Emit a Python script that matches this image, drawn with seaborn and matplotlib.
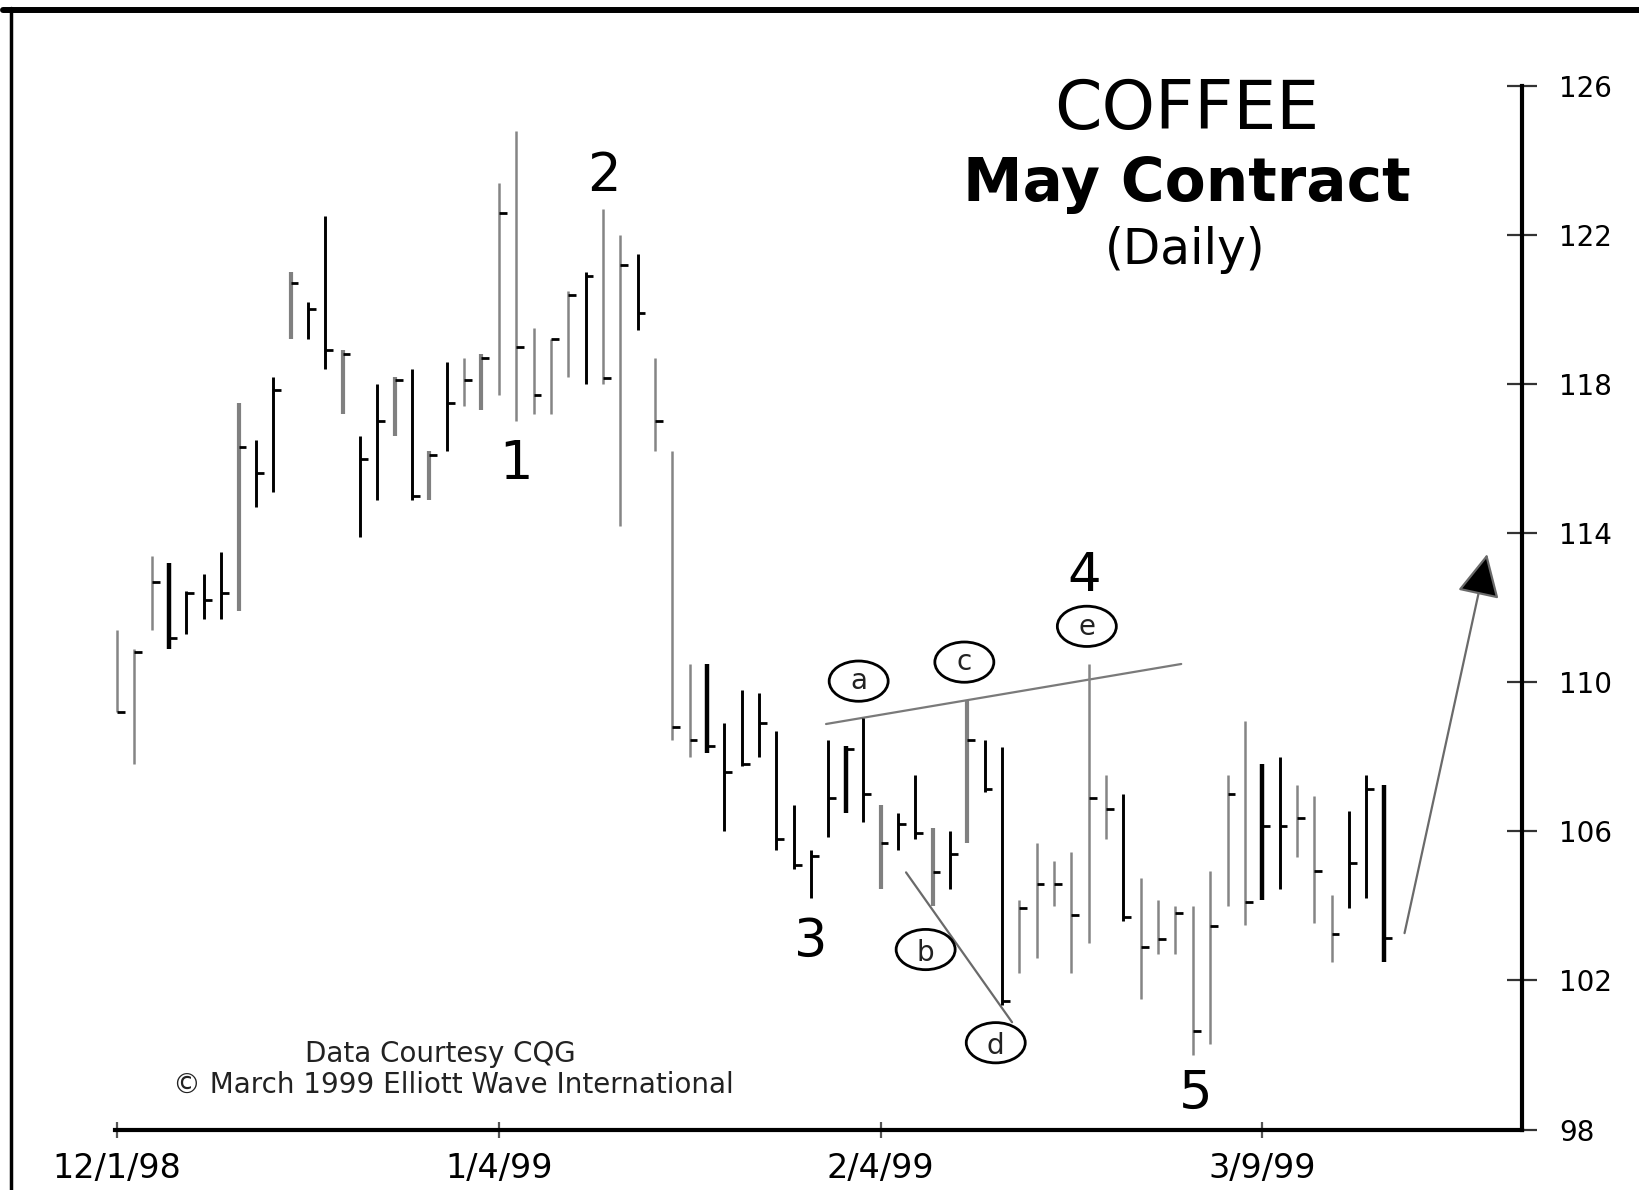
import numpy as np
import matplotlib
matplotlib.use("Agg")
import matplotlib.pyplot as plt
from matplotlib.patches import Ellipse
from matplotlib.lines import Line2D
import seaborn as sns

sns.set_theme(style="white")
plt.rcParams['font.family'] = ['DejaVu Sans']

# Trading sessions counted from 12/1/98
day = list(range(74))

high = [111.4, 110.9, 113.4, 113.2, 112.45, 112.9, 113.5, 117.5, 116.5, 118.2,
        121.0, 120.2, 122.5, 118.9, 116.6, 118.0, 118.2, 118.4, 116.2, 118.6,
        118.7, 118.8, 123.4, 124.8, 119.5, 119.2, 120.5, 121.0, 122.7, 122.0,
        121.5, 118.7, 116.2, 110.5, 110.5, 108.9, 109.8, 109.7, 108.7, 106.7,
        105.5, 108.45, 108.3, 109.05, 106.7, 106.5, 107.5, 106.1, 106.0, 109.5,
        108.45, 108.25, 104.15, 105.7, 105.2, 105.45, 110.5, 107.5, 107.0, 104.75,
        104.15, 104.0, 104.0, 104.95, 107.5, 108.95, 107.8, 108.0, 107.25, 106.95,
        104.3, 106.55, 107.5, 107.25]

low = [109.2, 107.8, 111.4, 110.9, 111.3, 111.7, 111.7, 111.9, 114.7, 115.1,
       119.2, 119.2, 118.4, 117.2, 113.9, 114.9, 116.6, 114.9, 114.9, 116.2,
       117.4, 117.3, 117.7, 117.0, 117.2, 117.2, 118.2, 118.0, 118.0, 114.2,
       119.45, 116.2, 108.45, 108.0, 108.1, 106.0, 107.75, 108.0, 105.5, 105.0,
       104.2, 105.85, 106.5, 106.25, 104.45, 105.5, 105.8, 104.0, 104.45, 105.7,
       107.05, 101.35, 102.2, 102.6, 104.0, 102.2, 103.0, 105.8, 103.6, 101.5,
       102.7, 102.7, 100.0, 100.3, 104.0, 103.5, 104.15, 104.45, 105.3, 103.55,
       102.5, 103.95, 104.2, 102.5]

close = [109.2, 110.8, 112.7, 111.2, 112.4, 112.2, 112.4, 116.3, 115.6, 117.85,
         120.7, 120.0, 118.9, 118.8, 116.0, 117.0, 118.1, 115.0, 116.1, 117.5,
         118.1, 118.7, 122.6, 119.0, 117.7, 119.2, 120.4, 120.9, 118.15, 121.2,
         119.9, 117.0, 108.8, 108.45, 108.3, 107.6, 107.8, 108.9, 105.8, 105.1,
         105.35, 106.9, 108.2, 107.0, 105.7, 106.2, 105.95, 104.9, 105.4, 108.45,
         107.15, 101.45, 103.95, 104.6, 104.6, 103.75, 106.9, 106.6, 103.7, 102.9,
         103.1, 103.8, 100.65, 103.45, 107.0, 104.1, 106.15, 106.15, 106.35, 104.95,
         103.25, 105.15, 107.15, 103.15]

date_ticks = [0, 22, 44, 66]
date_labels = ["12/1/98", "1/4/99", "2/4/99", "3/9/99"]
price_ticks = [98, 102, 106, 110, 114, 118, 122, 126]

# Wave count labels
wave_labels = ["1", "2", "3", "4", "5"]
wave_x = [22.97, 28.03, 39.97, 55.76, 62.15]
wave_y = [115.45, 123.17, 102.63, 112.45, 98.56]

# Triangle sub-wave labels
sub_labels = ["a", "b", "c", "d", "e"]
sub_x = [42.74, 46.6, 48.83, 50.64, 55.89]
sub_y = [110.03, 102.83, 110.54, 100.33, 111.5]

# Triangle boundary lines
upper_x = [40.86, 61.33]
upper_y = [108.88, 110.49]
lower_x = [45.47, 51.58]
lower_y = [104.9, 100.88]

# Projected wave 5 rally
proj_x = [74.2, 78.96]
proj_y = [103.27, 113.44]

# bar rendering weight: g thin grey, G heavy grey, k black, K heavy black
bar_style = (["g"] * 3 + ["K"] + ["k"] * 3 + ["G"] + ["k"] * 2 + ["G"] + ["k"] * 2
             + ["G"] + ["k"] * 2 + ["G", "k", "G", "k", "g", "G"] + ["g"] * 5
             + ["k", "g", "g", "k"] + ["g"] * 3 + ["K"] + ["k"] * 7 + ["K", "k", "G"]
             + ["k"] * 2 + ["G", "k", "G"] + ["k"] * 2 + ["g"] * 6 + ["k"]
             + ["g"] * 7 + ["K", "k"] + ["g"] * 3 + ["k", "k", "K"])
style_map = {"g": ("#858585", 1.8), "G": ("#808080", 3.0),
             "k": ("#000000", 2.1), "K": ("#000000", 3.2)}

W, H = 1640, 1190
fig = plt.figure(figsize=(W / 100, H / 100), dpi=100)
fig.patch.set_facecolor("white")
ax = fig.add_axes([115 / W, 60.4 / H, (1522 - 115) / W, (1129.6 - 85.8) / H])
ax.set_facecolor("white")

# high-low bars with close ticks
for key in "gGkK":
    idx = [i for i in day if bar_style[i] == key]
    col, lw = style_map[key]
    ax.vlines([day[i] for i in idx], [low[i] for i in idx], [high[i] for i in idx],
              colors=col, linewidth=lw, zorder=3)
ax.hlines(close, np.array(day), np.array(day) + 0.45, colors="black",
          linewidth=2.0, zorder=3)

# triangle boundaries
sns.lineplot(x=upper_x, y=upper_y, ax=ax, color="#7a7a7a", linewidth=1.6, zorder=2)
sns.lineplot(x=lower_x, y=lower_y, ax=ax, color="#6a6a6a", linewidth=1.6, zorder=2)

# projection arrow
ax.annotate("", xy=(proj_x[1], proj_y[1]), xytext=(proj_x[0], proj_y[0]),
            arrowprops=dict(arrowstyle="-|>,head_length=0.9,head_width=0.45",
                            ec="#6a6a6a", fc="black", lw=1.6,
                            mutation_scale=30, shrinkA=0, shrinkB=0), zorder=4)

for lab, x, y in zip(wave_labels, wave_x, wave_y):
    ax.text(x, y, lab, ha="center", va="baseline", fontsize=38, color="black", zorder=5)

for lab, x, y in zip(sub_labels, sub_x, sub_y):
    ax.add_patch(Ellipse((x, y), 3.4, 1.08, fill=False, edgecolor="black",
                         linewidth=2.0, zorder=5))
    off = 0.3 if lab in "bd" else 0.22
    ax.text(x, y - off, lab, ha="center", va="baseline", fontsize=20,
            color="#222222", zorder=6)

ax.set_xlim(-0.12, 80.97)
ax.set_ylim(98, 126)
ax.set_xticks(date_ticks)
ax.set_xticklabels(date_labels)
ax.set_yticks(price_ticks)
ax.set_yticklabels([str(p) for p in price_ticks])
ax.yaxis.tick_right()

for side in ["top", "left"]:
    ax.spines[side].set_visible(False)
for side in ["bottom", "right"]:
    ax.spines[side].set_visible(True)
    ax.spines[side].set_color("black")
    ax.spines[side].set_linewidth(3.0)

ax.tick_params(axis="y", which="major", right=True, left=False, direction="inout",
               length=22, width=1.6, color="#333333", pad=16, labelsize=20,
               labelcolor="black")
ax.tick_params(axis="x", which="major", bottom=True, direction="inout",
               length=12, width=1.6, color="#555555", pad=10, labelsize=24,
               labelcolor="black")
ax.grid(False)

# Title block
fig.text(1187 / W, 1 - 128.6 / H, "COFFEE", ha="center", va="baseline",
         fontsize=49, color="black")
fig.text(1187 / W, 1 - 200.8 / H, "May Contract", ha="center", va="baseline",
         fontsize=43, fontweight="bold", color="black")
fig.text(1185 / W, 1 - 263.6 / H, "(Daily)", ha="center", va="baseline",
         fontsize=35, color="black")

# Credits
fig.text(440 / W, 1 - 1054 / H, "Data Courtesy CQG", ha="center", va="center",
         fontsize=20, color="#222222")
fig.text(453 / W, 1 - 1085 / H, "\u00a9 March 1999 Elliott Wave International",
         ha="center", va="center", fontsize=20, color="#222222")

# Outer frame
fig.add_artist(Line2D([3 / W, 1], [1 - 10 / H, 1 - 10 / H], transform=fig.transFigure,
                      color="black", linewidth=4.3))
fig.add_artist(Line2D([11 / W, 11 / W], [0, 1 - 8 / H], transform=fig.transFigure,
                      color="black", linewidth=2.5))

fig.savefig("out.png", dpi=100, facecolor="white")
